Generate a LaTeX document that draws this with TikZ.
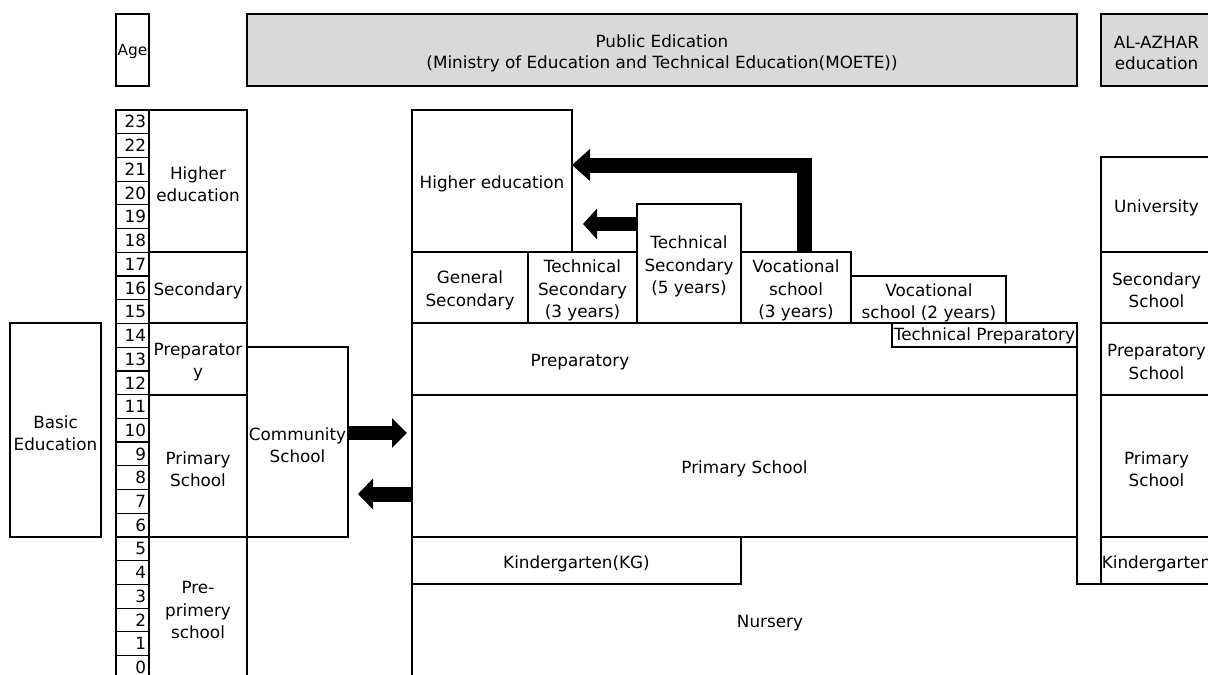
\documentclass[tikz,border=0pt]{standalone}
\usepackage{fontspec}
\setmainfont{DejaVu Sans}
\usetikzlibrary{arrows.meta}

% one coordinate unit = 0.75pt, y grows downwards
\tikzset{
  box/.style={draw, line width=0.9pt, inner sep=0pt, outer sep=0pt},
  headbox/.style={box, fill=gray!30},
  plain/.style={inner sep=0pt, outer sep=0pt, align=center,
                font=\fontsize{12.6}{16.8}\selectfont},
  agecell/.style={draw, line width=0.9pt, outer sep=0pt, minimum width=24.75pt,
                  minimum height=17.79pt, inner xsep=2.25pt, inner ysep=0pt,
                  text width=20.25pt, align=right,
                  font=\fontsize{12.6}{14}\selectfont},
  border/.style={line width=0.9pt},
  flow/.style n args={3}{line width=#1, line join=miter,
                         -{Triangle[width=#2, length=#3]}},
}

% \panel[box style]{name}{x1}{y1}{x2}{y2}{text}; the text sits a little low
\newcommand\panel[7][]{%
  \node[box,#1,minimum width={(#5-#3)*0.75pt},minimum height={(#6-#4)*0.75pt}]
    (#2) at ({(#3+#5)/2},{(#4+#6)/2}) {};
  \node[plain] (#2t) at ({(#3+#5)/2},{(#4+#6)/2+3}) {#7};}

\begin{document}
\begin{tikzpicture}[x=0.75pt,y=-0.75pt]
\useasboundingbox (0,0) rectangle (1208,675);
\clip (0,0) rectangle (1208,675);

% headers
\panel{ageh}{116}{14}{149}{86}{}
\node[plain, font=\fontsize{11.5}{13}\selectfont] (agelabel) at (132.5,52) {Age};
\panel[headbox]{pubh}{247}{14}{1077}{86}{Public Edication\\[-1pt](Ministry of Education and Technical Education(MOETE))}
\panel[headbox]{azh}{1101}{14}{1212}{86}{AL-AZHAR\\[-1pt]education}

% age scale
\foreach \a in {0,...,23}{
  \pgfmathsetmacro\yc{110+(23-\a)*23.72+11.86}
  \node[agecell] (age\a) at (132.5,\yc) {\raisebox{-1.2pt}{\a}};
}

% stages
\panel{sHigher}{149}{110}{247}{252}{Higher\\education}
\panel{sSec}{149}{252}{247}{323}{Secondary}
\panel{sPrep}{149}{323}{247}{395}{Preparator\\y}
\panel{sPrim}{149}{395}{247}{537}{Primary\\School}
\panel{sPre}{149}{537}{247}{677}{Pre-\\primery\\school}

\panel{basic}{10}{323}{101}{537}{Basic\\Education}
\panel{comm}{247}{347}{348}{537}{Community\\School}

% public education
\panel{pHigher}{412}{110}{572}{252}{Higher education}
\panel{pGen}{412}{252}{528}{323}{General\\Secondary}
\panel{pTechA}{528}{252}{637}{323}{Technical\\Secondary\\(3 years)}
\panel{pTechB}{637}{204}{741}{323}{Technical\\Secondary\\(5 years)}
\panel{pVocA}{741}{252}{851}{323}{Vocational\\school\\(3 years)}
\panel{pVocB}{851}{276}{1006}{323}{}
\node[plain] (pVocBt) at (929,303) {Vocational\\school (2 years)};
\panel{pPrep}{412}{323}{1077}{395}{}
\node[plain] (pPrepText) at (580,362) {Preparatory};
\panel{pTechPrep}{892}{323}{1077}{347}{}
\node[plain] (pTechPrepText) at (984.5,336) {Technical Preparatory};
\panel{pPrim}{412}{395}{1077}{537}{Primary School}
\panel{pKG}{412}{537}{741}{584}{Kindergarten(KG)}
\node[plain] (pNur) at (770,623) {Nursery};
\coordinate (nurBottom) at (412,677);
\draw[border] (pKG.south west) -- (nurBottom);

% al-azhar education
\panel{aUni}{1101}{157}{1212}{252}{University}
\panel{aSec}{1101}{252}{1212}{323}{Secondary\\School}
\panel{aPrep}{1101}{323}{1212}{395}{Preparatory\\School}
\panel{aPrim}{1101}{395}{1212}{537}{Primary\\School}
\panel{aKG}{1101}{537}{1212}{584}{Kindergarten}
\draw[border] (pPrim.south east) -- (pPrim.south east |- aKG.south) -- (aKG.south west);

% transfer arrows
\coordinate (toPrim) at (407,433);
\coordinate (toComm) at (358,494);
\coordinate (toHigherA) at (583,224);
\coordinate (toHigherB) at (572,165);
\draw[flow={10.5pt}{21.75pt}{11.25pt}] (comm.east |- toPrim) -- (toPrim);
\draw[flow={11.25pt}{22.5pt}{11.25pt}] (pPrim.west |- toComm) -- (toComm);
\draw[flow={10.5pt}{22.5pt}{10.5pt}] (pTechB.west |- toHigherA) -- (toHigherA);
\draw[flow={11.25pt}{23.25pt}{13.5pt}] (pVocA.north -| 804.5,0) |- (toHigherB);
\end{tikzpicture}
\end{document}
